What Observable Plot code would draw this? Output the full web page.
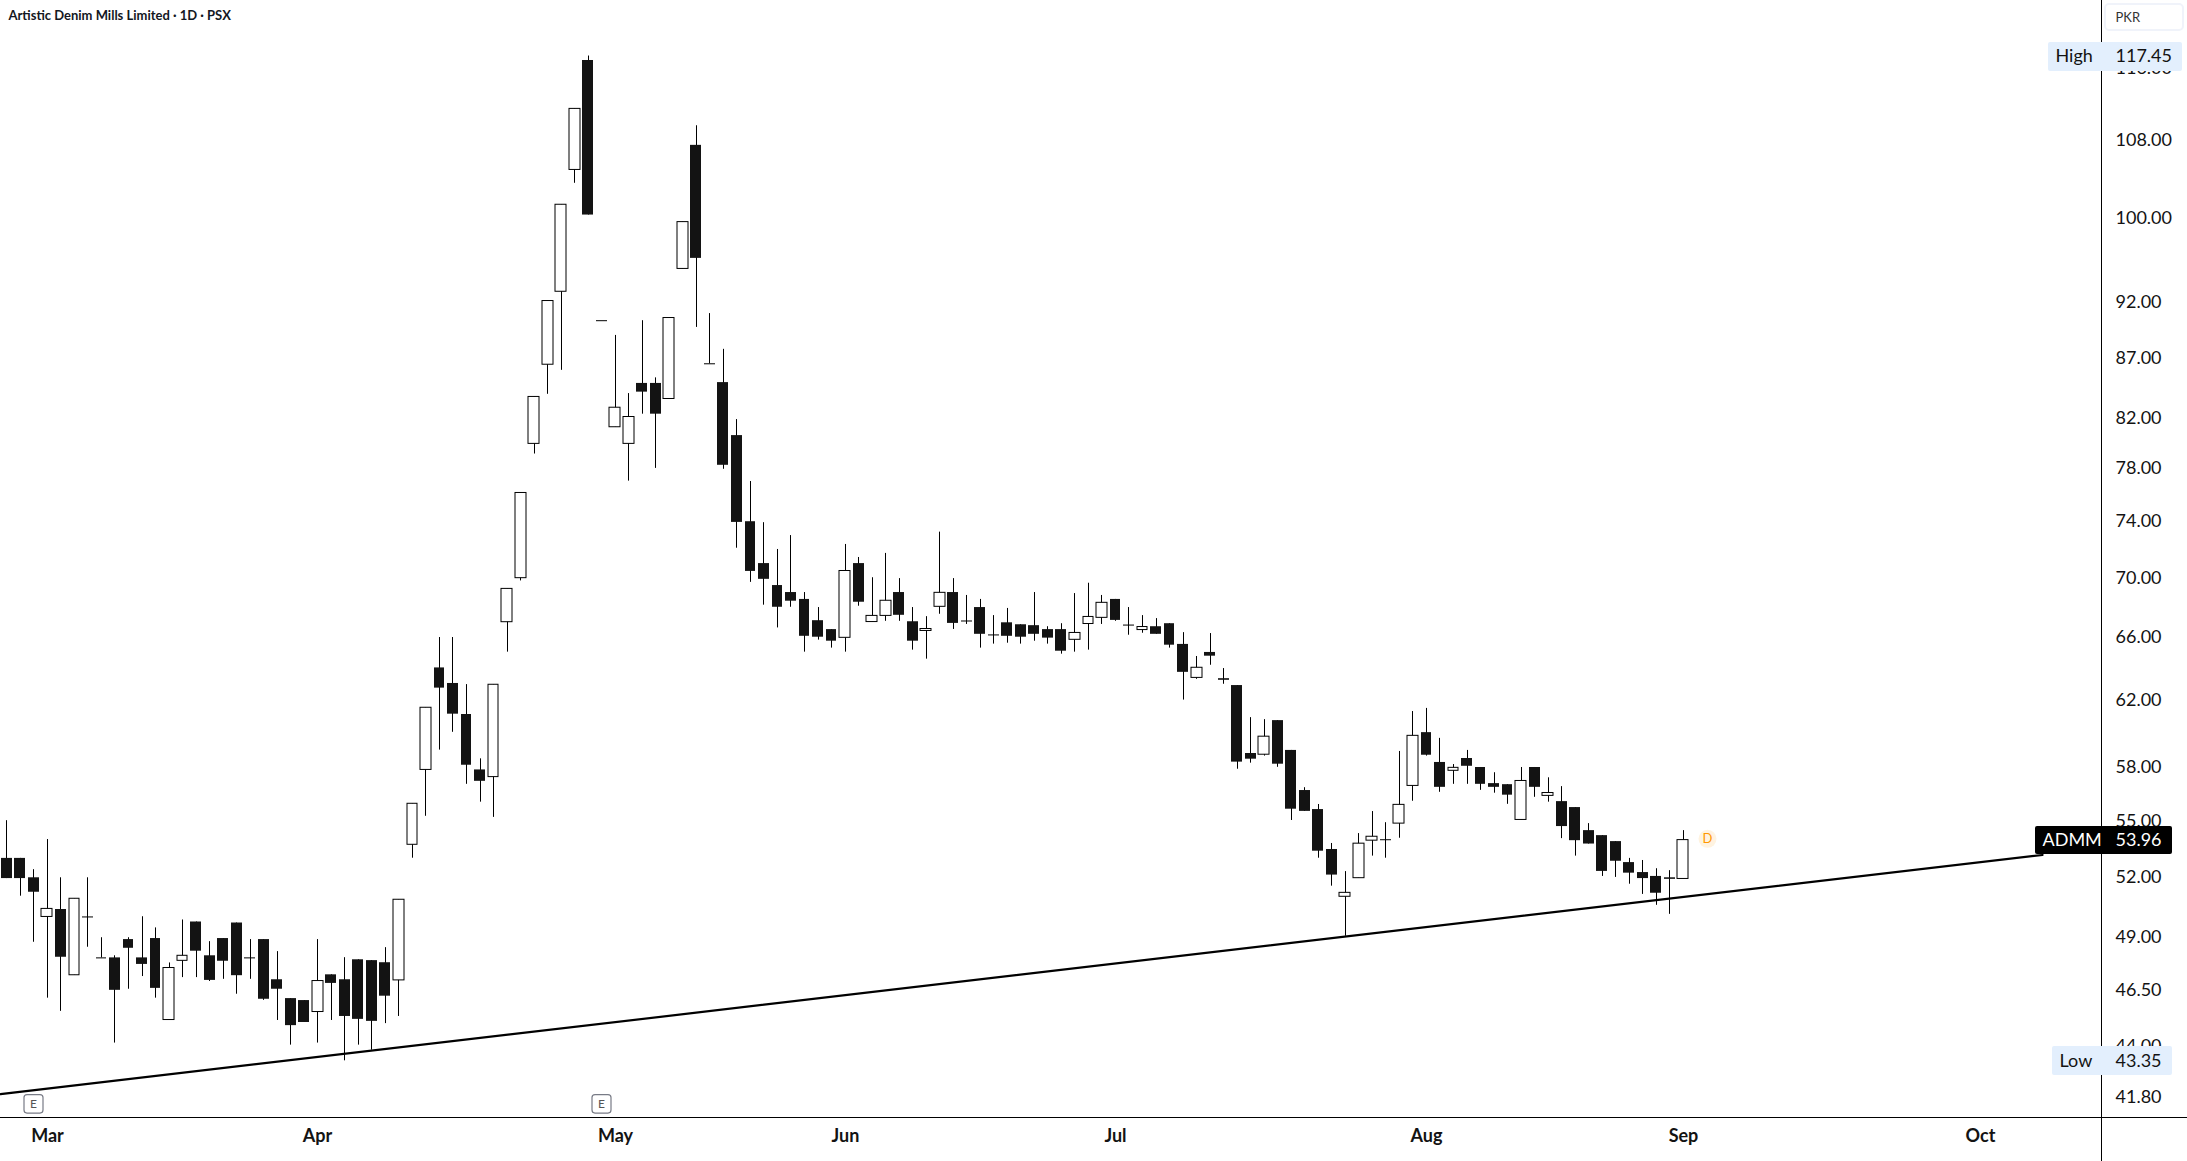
<!DOCTYPE html>
<html><head><meta charset="utf-8">
<style>html,body{margin:0;padding:0;background:#fff}svg{display:block}</style>
<script src="https://cdn.jsdelivr.net/npm/d3@7"></script>
<script src="https://cdn.jsdelivr.net/npm/@observablehq/plot@0.6"></script>
</head><body><div id="c"></div>
<script>
const title = "Artistic Denim Mills Limited · 1D · PSX";
const opens = [52.99,52.99,51.98,50.00,50.37,47.19,50.00,48.01,48.01,48.89,48.01,48.94,45.14,47.87,49.75,48.11,48.94,49.70,48.01,48.89,46.98,46.11,46.02,45.50,47.21,46.98,47.92,47.88,47.78,46.95,53.71,57.85,64.01,63.03,61.12,57.85,57.44,66.98,69.97,79.94,86.47,92.96,104.90,116.93,90.33,81.27,79.94,84.88,84.88,83.58,95.09,107.49,86.55,84.95,80.60,74.00,70.99,69.46,68.98,68.51,67.08,66.49,65.95,70.99,66.99,67.40,68.98,67.01,66.40,68.01,68.98,67.06,67.96,66.14,66.94,66.81,66.75,66.49,66.49,65.82,66.86,67.27,68.51,66.79,66.46,66.68,66.88,65.52,63.38,65.00,63.33,62.90,58.80,58.73,60.75,58.98,56.68,55.62,53.46,51.01,51.96,53.93,53.98,54.85,56.94,60.03,58.28,57.80,58.51,57.99,57.07,57.01,55.05,57.99,56.38,56.06,55.73,54.47,54.20,53.88,52.77,52.25,52.05,51.98,51.92];
const highs = [55.01,52.99,52.40,53.99,51.98,50.91,51.98,48.98,48.11,48.98,50.01,49.46,47.77,49.85,49.75,48.79,48.94,49.70,48.89,48.89,48.31,46.11,46.02,48.89,47.21,48.02,47.92,47.88,48.50,50.86,55.94,61.53,65.97,65.97,62.96,58.49,62.95,69.23,76.14,83.75,92.11,101.34,111.45,117.45,90.33,89.02,84.03,90.33,85.35,90.57,99.61,109.60,90.97,87.80,81.89,77.01,73.93,71.99,72.99,68.98,67.96,66.49,72.35,71.42,70.00,71.71,69.94,67.96,67.35,73.24,69.94,68.78,68.51,67.42,67.90,66.81,68.98,66.68,66.88,68.91,69.62,68.78,68.51,67.96,67.42,67.22,66.88,66.29,64.74,66.23,63.97,62.90,60.93,60.81,60.75,58.98,56.84,55.90,53.78,52.30,54.31,55.51,54.90,58.92,61.30,61.49,59.69,58.16,58.98,57.99,57.69,57.01,57.99,57.99,57.40,56.90,55.73,54.85,54.20,53.88,52.99,52.88,52.45,52.35,54.47];
const lows = [51.94,51.04,48.76,46.13,45.53,47.19,48.52,48.01,44.12,46.54,47.13,46.13,45.14,47.08,47.08,46.90,47.00,46.31,47.00,46.03,45.12,44.03,45.03,44.12,45.12,43.35,44.03,43.81,44.98,45.30,53.00,55.25,59.00,60.05,57.03,56.03,55.19,65.02,69.78,79.14,83.97,85.99,103.52,100.31,90.33,81.27,77.04,82.33,78.02,83.58,95.09,89.73,86.55,77.95,72.08,69.68,68.12,66.60,67.98,65.02,65.80,65.28,65.02,68.05,66.99,67.04,67.04,65.15,64.57,67.51,66.50,66.83,65.28,65.54,65.60,65.54,65.73,65.54,64.89,65.02,65.15,66.83,67.04,66.12,66.25,66.18,65.28,62.00,63.29,64.18,62.98,57.89,58.24,58.65,58.00,55.02,55.52,53.00,51.55,49.05,51.96,53.11,53.00,54.06,56.08,58.65,56.58,57.03,57.03,56.69,56.53,55.91,55.05,56.30,56.03,54.04,53.11,53.75,52.05,52.00,51.65,51.13,50.58,50.13,51.92];
const closes = [51.94,51.94,51.24,50.40,48.04,50.91,50.00,48.01,46.49,48.47,47.70,46.58,47.53,48.11,48.33,46.95,47.85,47.17,48.01,46.08,46.54,44.89,45.03,46.92,46.81,45.30,45.17,45.08,46.22,50.86,55.94,61.53,62.74,61.14,58.12,57.20,62.95,69.23,76.14,83.75,92.11,101.34,111.45,100.31,90.33,82.86,82.10,84.15,82.33,90.57,99.61,96.09,86.55,78.26,73.95,70.44,69.89,67.98,68.39,66.05,65.99,65.73,70.47,68.32,67.40,68.42,67.44,65.73,66.53,68.96,66.90,67.06,66.18,66.14,66.05,65.99,66.18,65.93,65.08,66.27,67.33,68.28,67.10,66.79,66.66,66.18,65.47,63.73,64.02,64.76,63.23,58.30,58.47,59.79,58.18,55.64,55.52,53.37,52.12,51.21,53.77,54.14,53.98,55.88,59.84,58.70,56.86,57.97,58.06,57.03,56.86,56.42,57.22,56.86,56.54,54.69,53.93,53.75,52.31,52.84,52.22,51.94,51.19,51.90,53.96];

const priceTicks = [116,108,100,92,87,82,78,74,70,66,62,58,55,52,49,46.5,44,41.8];
const monthBars = [3,23,45,62,82,105,124,146];
const monthNames = ["Mar","Apr","May","Jun","Jul","Aug","Sep","Oct"];
const trendBars = [-0.468,150.6];
const trendPrices = [41.94,53.17];
const earningsBars = [2,44];
const dividendBar = 125.77;
const highPrice = 117.45, lowPrice = 43.35, lastPrice = 53.96;

const bars = opens.map((o,i)=>({i,o,h:highs[i],l:lows[i],c:closes[i]}));
const bodies = bars.filter(d=>d.o!==d.c);
const dojis = bars.filter(d=>d.o===d.c);
const XMIN=-0.468, XMAX=154.93, XEND=161.3, YTOP=124.1, YBOT=40.98, YEXT=39.23;
const FONT='Lato, sans-serif';
const ink="#131313";
const axisText = 18;

const plot = Plot.plot({
  width:2187, height:1161,
  marginLeft:0, marginRight:86, marginTop:0, marginBottom:44,
  style:{background:"#fff", fontFamily:FONT, overflow:"visible"},
  x:{domain:[XMIN,XMAX], range:[0,2101], round:true, axis:null},
  y:{type:"log", domain:[YBOT,YTOP], range:[1117,0], axis:null},
  marks:[
    Plot.axisY(priceTicks,{anchor:"right", tickSize:0, tickPadding:14, fontSize:axisText, fill:ink, label:null, tickFormat:d=>d.toFixed(2)}),
    Plot.axisX(monthBars,{anchor:"bottom", tickSize:0, tickPadding:12, fontSize:18, fontWeight:700, fill:ink, label:null, tickFormat:d=>monthNames[monthBars.indexOf(d)]}),
    // axes frame lines
    Plot.ruleY([YBOT],{x1:XMIN,x2:XEND,stroke:"#000",strokeWidth:1}),
    Plot.ruleX([XMAX],{y1:YEXT,y2:YTOP,stroke:"#000",strokeWidth:1}),
    // trend line
    Plot.line(trendBars.map((b,i)=>({b,p:trendPrices[i]})),{x:"b",y:"p",stroke:"#000",strokeWidth:2.2}),
    // candles
    Plot.ruleX(bars,{x:"i",y1:"l",y2:"h",stroke:"#000",strokeWidth:1}),
    Plot.rect(bodies,{x1:d=>d.i-0.4,x2:d=>d.i+0.4,y1:"o",y2:"c",
      fill:d=>d.c>d.o?"#fff":ink, stroke:d=>d.c>d.o?"#000":"none", strokeWidth:1}),
    Plot.ruleY(dojis,{y:"c",x1:d=>d.i-0.4,x2:d=>d.i+0.4,stroke:"#000",strokeWidth:1}),
    // earnings badges
    Plot.rect(earningsBars,{x1:d=>d-0.7,x2:d=>d+0.7,y1:41.14,y2:41.90,fill:"#fff",stroke:"#787b86",strokeWidth:1.2,rx:3}),
    Plot.text(earningsBars,{x:d=>d,y:41.51,text:()=>"E",fontSize:12,fill:"#555"}),
    // dividend marker
    Plot.dot([dividendBar],{x:d=>d,y:54.03,r:9,fill:"#fff3e0"}),
    Plot.text([dividendBar],{x:d=>d,y:54.03,text:()=>"D",fontSize:13,fill:"#ff9800"}),
    // high tag
    Plot.rect([0],{x1:151,x2:160.9,y1:115.65,y2:119.05,fill:"#e3effd",rx:2}),
    Plot.text(["High"],{x:151.55,y:highPrice,text:d=>d,textAnchor:"start",fontSize:axisText,fill:ink}),
    Plot.text([highPrice],{x:155.97,y:highPrice,text:d=>d.toFixed(2),textAnchor:"start",fontSize:axisText,fill:ink}),
    // last-price tag
    Plot.rect([0],{x1:150.05,x2:160.18,y1:53.20,y2:54.69,fill:"#000",rx:2}),
    Plot.text(["ADMM"],{x:150.57,y:lastPrice,text:d=>d,textAnchor:"start",fontSize:axisText,fill:"#fff"}),
    Plot.text([lastPrice],{x:155.97,y:lastPrice,text:d=>d.toFixed(2),textAnchor:"start",fontSize:axisText,fill:"#fff"}),
    // low tag
    Plot.rect([0],{x1:151.3,x2:160.18,y1:42.72,y2:43.97,fill:"#e3effd",rx:2}),
    Plot.text(["Low"],{x:151.8,y:lowPrice,text:d=>d,textAnchor:"start",fontSize:axisText,fill:ink}),
    Plot.text([lowPrice],{x:155.97,y:lowPrice,text:d=>d.toFixed(2),textAnchor:"start",fontSize:axisText,fill:ink}),
    // currency box
    Plot.rect([0],{x1:155.25,x2:161,y1:120.47,y2:123.6,fill:"#fff",stroke:"#f0f3fa",strokeWidth:2,rx:4}),
    Plot.text(["PKR"],{x:155.95,y:122,text:d=>d,textAnchor:"start",fontSize:13,fill:"#333"}),
    // title
    Plot.text([title],{frameAnchor:"top-left",dx:8,dy:10,text:d=>d,fontSize:13,fontWeight:700,fill:"#131722",fontFamily:FONT})
  ]
});
document.getElementById("c").append(plot);
</script></body></html>
